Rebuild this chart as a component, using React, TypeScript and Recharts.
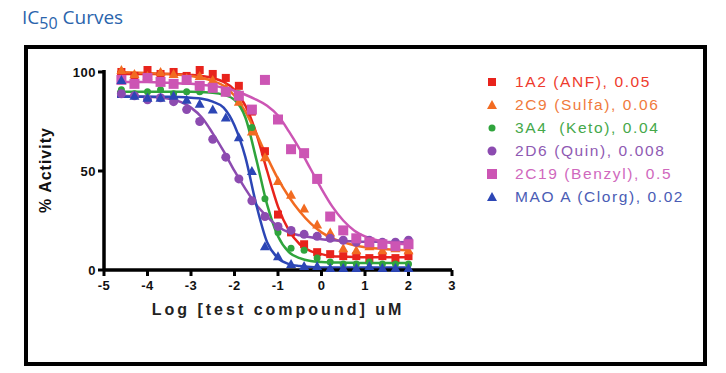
import React from 'react';
import { ComposedChart, Line, Scatter, XAxis, YAxis } from 'recharts';

const seriesNames = ['1A2 (ANF), 0.05', '2C9 (Sulfa), 0.06', '3A4  (Keto), 0.04', '2D6 (Quin), 0.008', '2C19 (Benzyl), 0.5', 'MAO A (Clorg), 0.02'];
const colors = ['#e8231c', '#f26b21', '#2fa43c', '#8c4bb0', '#cc55b4', '#2c46b5'];
const labelColors = ['#ee3a2c', '#f07a3c', '#45a84a', '#8f5ab3', '#d068bd', '#4a5cb5'];
const markers = ['square', 'triangle', 'dot', 'circle', 'bigsquare', 'triangle'];

const xTicks = [-5, -4, -3, -2, -1, 0, 1, 2, 3];
const yTicks = [0, 50, 100];

// measured points (log conc)
const pointX = [-4.6, -4.3, -4.0, -3.7, -3.4, -3.1, -2.8, -2.5, -2.2, -1.9, -1.6, -1.3, -1.0, -0.7, -0.4, -0.1, 0.2, 0.5, 0.8, 1.1, 1.4, 1.7, 2.0];
const anfPts = [100, 98, 101, 99, 100, 98, 101, 99, 97, 93, 80, 60, 28, 19, 13, 9, 8, 7, 7, 6, 7, 6, 7];
const sulfaPts = [101, 99, 98, 100, 99, 97, 98, 96, 92, 85, 70, 57, 45, 38, 31, 23, 19, 11, 10, 12, 10, 11, 10];
const ketoPts = [91, 89, 90, 91, 89, 90, 90, 91, 90, 89, 72, 36, 19, 11, 10, 6, 4, 3, 3, 4, 3, 3, 3];
const quinPts = [89, 88, 86, 87, 85, 81, 75, 66, 57, 46, 35, 27, 22, 20, 18, 17, 16, 15, 14, 15, 14, 14, 15];
const benzylPts = [96, 94, 97, 95, 94, 96, 93, 92, 90, 88, 81, 96, 76, 61, 59, 46, 27, 20, 16, 14, 13, 12, 13];
const clorgPts = [96, 88, 87, 87, 88, 86, 84, 81, 77, 67, 50, 12, 7, 3, 2, 2, 1, 1, 1, 2, 1, 1, 1];

// fitted curves
const curveX = [-4.7, -4, -3.5, -3, -2.75, -2.5, -2.25, -2, -1.75, -1.5, -1.25, -1, -0.75, -0.5, -0.25, 0, 0.25, 0.5, 0.75, 1, 1.5, 2];
const anfFit = [99, 99, 99, 98.5, 98, 97, 95, 91, 83, 69, 50, 32, 20, 13, 9.5, 8, 7, 6.8, 6.6, 6.5, 6.5, 6.5];
const sulfaFit = [100, 99.5, 99, 98, 97, 95.5, 93, 88, 80, 69, 57, 46, 37, 29.5, 23.5, 19, 16, 14, 12.5, 11.5, 10.5, 10];
const ketoFit = [90, 90, 90, 90, 89.8, 89.5, 88.5, 86, 77, 56, 33, 17, 9, 6, 4.5, 4, 3.8, 3.7, 3.6, 3.5, 3.5, 3.5];
const quinFit = [88, 87.5, 86.5, 82, 77, 69, 60, 50, 41, 33, 27, 22, 19, 17.5, 16.5, 15.5, 15, 14.7, 14.5, 14.3, 14.2, 14];
const benzylFit = [95, 95, 94.5, 94, 93.5, 93, 92, 90.5, 88.5, 86, 83, 78, 70, 61, 51, 41, 32, 25, 20, 17, 14, 13];
const clorgFit = [87.5, 87.5, 87.5, 87, 86.5, 85, 82, 73, 57, 33, 14, 6, 3, 2, 1.5, 1.3, 1.2, 1.2, 1.2, 1.2, 1.2, 1.2];

const pointSets = [anfPts, sulfaPts, ketoPts, quinPts, benzylPts, clorgPts];
const fitSets = [anfFit, sulfaFit, ketoFit, quinFit, benzylFit, clorgFit];

const toXY = (xs: number[], ys: number[]) => xs.map((x, i) => ({ x, y: ys[i] }));

function Marker({ kind, cx, cy, color }: { kind: string; cx: number; cy: number; color: string }) {
  if (cx == null || cy == null) return null;
  switch (kind) {
    case 'square':
      return <rect x={cx - 4} y={cy - 4} width={8} height={8} fill={color} />;
    case 'bigsquare':
      return <rect x={cx - 5} y={cy - 5} width={10} height={10} fill={color} />;
    case 'triangle':
      return <polygon points={`${cx},${cy - 5} ${cx + 5},${cy + 4} ${cx - 5},${cy + 4}`} fill={color} />;
    case 'circle':
      return <circle cx={cx} cy={cy} r={4.5} fill={color} />;
    default:
      return <circle cx={cx} cy={cy} r={3.5} fill={color} />;
  }
}

const tickStyle = { fill: '#111', fontSize: 13, fontWeight: 700, letterSpacing: 0.5, fontFamily: 'Liberation Sans, Arial, sans-serif' };

export default function App() {
  return (
    <div style={{ position: 'absolute', left: 0, top: 0, width: 726, height: 373, background: '#fff', overflow: 'hidden' }}>
      <div style={{ position: 'absolute', left: 22, top: 4, fontFamily: 'Open Sans, Noto Sans, sans-serif', fontSize: 19, color: '#2a64ac', whiteSpace: 'nowrap' }}>
        IC<span style={{ fontSize: 16, position: 'relative', top: 5 }}>50</span> Curves
      </div>
      <div style={{ position: 'absolute', left: 24, top: 45, width: 675, height: 313, border: '4px solid #000' }} />
      <div style={{ position: 'absolute', left: 0, top: 0 }}>
        <ComposedChart width={726} height={373} margin={{ top: 70, right: 274, bottom: 53, left: 44 }}>
          <XAxis type="number" dataKey="x" domain={[-5, 3]} ticks={xTicks} interval={0}
            axisLine={{ stroke: '#000', strokeWidth: 3.5 }} tickLine={{ stroke: '#000', strokeWidth: 3 }}
            tickSize={6} tickMargin={5} tick={tickStyle} height={50}
            label={{ value: 'Log [test compound] uM', position: 'insideBottom', offset: 5,
              style: { fill: '#222', fontSize: 16, fontWeight: 700, letterSpacing: 3, fontFamily: 'Liberation Sans, Arial, sans-serif' } }} />
          <YAxis type="number" domain={[0, 100]} ticks={yTicks} interval={0} width={60}
            axisLine={{ stroke: '#000', strokeWidth: 3.5 }} tickLine={{ stroke: '#000', strokeWidth: 3 }}
            tickSize={6} tick={tickStyle}
            label={{ value: '% Activity', angle: -90, position: 'insideLeft', offset: 1,
              style: { textAnchor: 'middle', fill: '#111', fontSize: 16, fontWeight: 700, letterSpacing: 1, fontFamily: 'Liberation Sans, Arial, sans-serif' } }} />
          {fitSets.map((ys, i) => (
            <Line key={'fit' + i} data={toXY(curveX, ys)} dataKey="y" type="monotone" stroke={colors[i]}
              strokeWidth={2.5} dot={false} activeDot={false} isAnimationActive={false} />
          ))}
          {pointSets.map((ys, i) => (
            <Scatter key={'pts' + i} data={toXY(pointX, ys)} dataKey="y" fill={colors[i]} isAnimationActive={false}
              shape={(p: any) => <Marker kind={markers[i]} cx={p.cx} cy={p.cy} color={colors[i]} />} />
          ))}
        </ComposedChart>
      </div>
      <div style={{ position: 'absolute', left: 484, top: 70, fontFamily: 'Liberation Sans, Arial, sans-serif', fontSize: 15.5, letterSpacing: 1.6 }}>
        {seriesNames.map((name, i) => (
          <div key={name} style={{ height: 23, display: 'flex', alignItems: 'center', whiteSpace: 'pre' }}>
            <svg width={16} height={14} style={{ marginRight: 15 }}>
              <Marker kind={markers[i]} cx={8} cy={7} color={colors[i]} />
            </svg>
            <span style={{ color: labelColors[i] }}>{name}</span>
          </div>
        ))}
      </div>
    </div>
  );
}
